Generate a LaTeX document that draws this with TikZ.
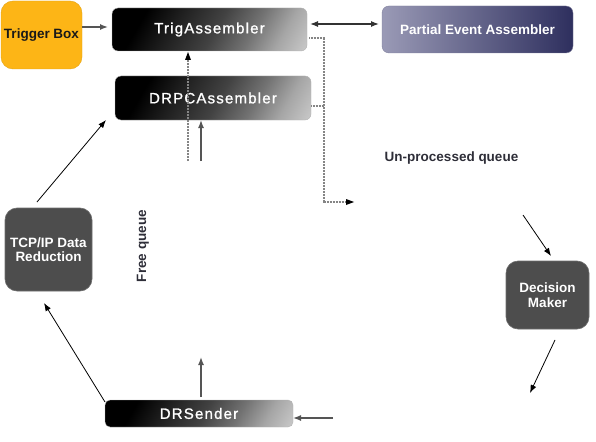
\documentclass[tikz,border=0pt]{standalone}
\usepackage{fontspec}
\setmainfont{Liberation Sans}
\newfontfamily\spacedfont[LetterSpace=8, FakeBold=1.2]{Liberation Sans}
\usetikzlibrary{arrows.meta,calc}
\definecolor{tborange}{HTML}{FDB516}
\definecolor{darkbox}{HTML}{4D4D4D}
\definecolor{darkedge}{HTML}{6E6E6E}
\definecolor{pealeft}{HTML}{9A9AB6}
\definecolor{peamid}{HTML}{3A3B6A}
\definecolor{pearight}{HTML}{2E2F5E}
\definecolor{arrgray}{HTML}{555555}
\definecolor{dotgray}{HTML}{858585}
\definecolor{labeltext}{HTML}{2E2E38}
\pgfdeclarehorizontalshading{metalgrad}{100bp}{color(0bp)=(black); color(27bp)=(black); color(38bp)=(black!88); color(52bp)=(black!74); color(64bp)=(black!55); color(74bp)=(black!35); color(85bp)=(black!20); color(100bp)=(black!18)}
\tikzset{
  bfont/.style={font=\fontsize{13.5}{14.5}\selectfont\bfseries},
  gradbox/.style={rectangle, rounded corners=6pt, inner sep=0pt, draw=black!30, line width=0.4pt,
    shading=metalgrad, shading angle=-30,
    text=white, font=\fontsize{15}{16}\selectfont\spacedfont},
  darkrbox/.style={rectangle, rounded corners=12pt, inner sep=0pt, fill=darkbox, draw=darkedge, line width=0.6pt,
    text=white, align=center, bfont},
  tip/.style={-{Latex[length=8pt,width=6pt]}},
  grayarrow/.style={tip, draw=arrgray, line width=1.4pt},
  thinarrow/.style={tip, draw=black, line width=0.8pt},
  dotline/.style={draw=dotgray, line width=1.3pt, dash pattern=on 0.9pt off 0.6pt},
  qlabel/.style={text=labeltext, bfont, inner sep=0pt}
}
\begin{document}
\begin{tikzpicture}[x=1pt,y=-1pt]
\useasboundingbox (0,0) rectangle (596,441);
% nodes
\node[rectangle, rounded corners=12pt, inner sep=0pt, fill=tborange, draw=tborange!90!black, line width=0.4pt,
  minimum width=81pt, minimum height=68pt, text=black!90, bfont] (tb) at (41.5,35) {Trigger Box};
\node[gradbox, minimum width=195pt, minimum height=43pt] (ta) at (209.5,29.5) {TrigAssembler};
\node[gradbox, minimum width=196pt, minimum height=44pt] (drpc) at (213,98) {DRPCAssembler};
\node[rectangle, rounded corners=7pt, inner sep=0pt, draw=pearight!60, line width=0.4pt,
  left color=pealeft, middle color=peamid, right color=pearight,
  minimum width=191pt, minimum height=47pt, text=white, bfont] (pea) at (477.5,29.5) {Partial Event Assembler};
\node[darkrbox, minimum width=87pt, minimum height=83pt] (tcp) at (48.5,249.5) {TCP/IP Data\\Reduction};
\node[darkrbox, minimum width=83pt, minimum height=68pt] (dm) at (547.5,295) {Decision\\Maker};
\node[gradbox, minimum width=188pt, minimum height=27pt, rounded corners=5pt] (drs) at (199,413.5) {DRSender};
\node[qlabel] (upq) at (451.5,158) {Un-processed queue};
\node[qlabel, rotate=90] (fq) at (143,246) {Free queue};
% free-end coordinates
\coordinate (tbA) at (82,27);
\coordinate (taA) at (108,27);
\coordinate (taB) at (310,24);
\coordinate (peaB) at (379,24);
\coordinate (taD) at (309,38);
\coordinate (bendA) at (324,38);
\coordinate (bendB) at (324,202);
\coordinate (dotEnd) at (352,202);
\coordinate (drpcD) at (311,106);
\coordinate (drpcDe) at (324,106);
\coordinate (dotStart) at (188,161);
\coordinate (taBot) at (188,52);
\coordinate (solStart) at (201,161);
\coordinate (drpcBot) at (201,120);
\coordinate (tcpTop) at (37,202);
\coordinate (drpcTip) at (106,120);
\coordinate (drsTail) at (105,402);
\coordinate (tcpTip) at (44,303);
\coordinate (drsUp) at (201,397);
\coordinate (drsUpTip) at (201,357);
\coordinate (rightTail) at (333,418);
\coordinate (drsRight) at (293,418);
\coordinate (dmInTail) at (523,215);
\coordinate (dmInTip) at (551,256);
\coordinate (dmOutTail) at (555,340);
\coordinate (dmOutTip) at (530,393);
% connectors
\draw[grayarrow] (tbA) -- (taA);
\draw[{Latex[length=8pt,width=6pt]}-{Latex[length=8pt,width=6pt]}, draw=black!80, line width=1.2pt] (taB) -- (peaB);
\draw[dotline] (taD) -- (bendA) -- (bendB) -- (dotEnd);
\fill[black] (dotEnd) ++(2,0) -- ++(-8,-3) -- ++(0,6) -- cycle;
\draw[dotline] (drpcD) -- (drpcDe);
\draw[dotline] (dotStart) -- ($(taBot)+(0,8)$);
\fill[black] (taBot) -- ++(-3,8) -- ++(6,0) -- cycle;
\draw[grayarrow] (solStart) -- (drpcBot);
\draw[thinarrow] (tcpTop) -- (drpcTip);
\draw[thinarrow] (drsTail) -- (tcpTip);
\draw[grayarrow] (drsUp) -- (drsUpTip);
\draw[grayarrow] (rightTail) -- (drsRight);
\draw[thinarrow] (dmInTail) -- (dmInTip);
\draw[thinarrow] (dmOutTail) -- (dmOutTip);
\end{tikzpicture}
\end{document}
